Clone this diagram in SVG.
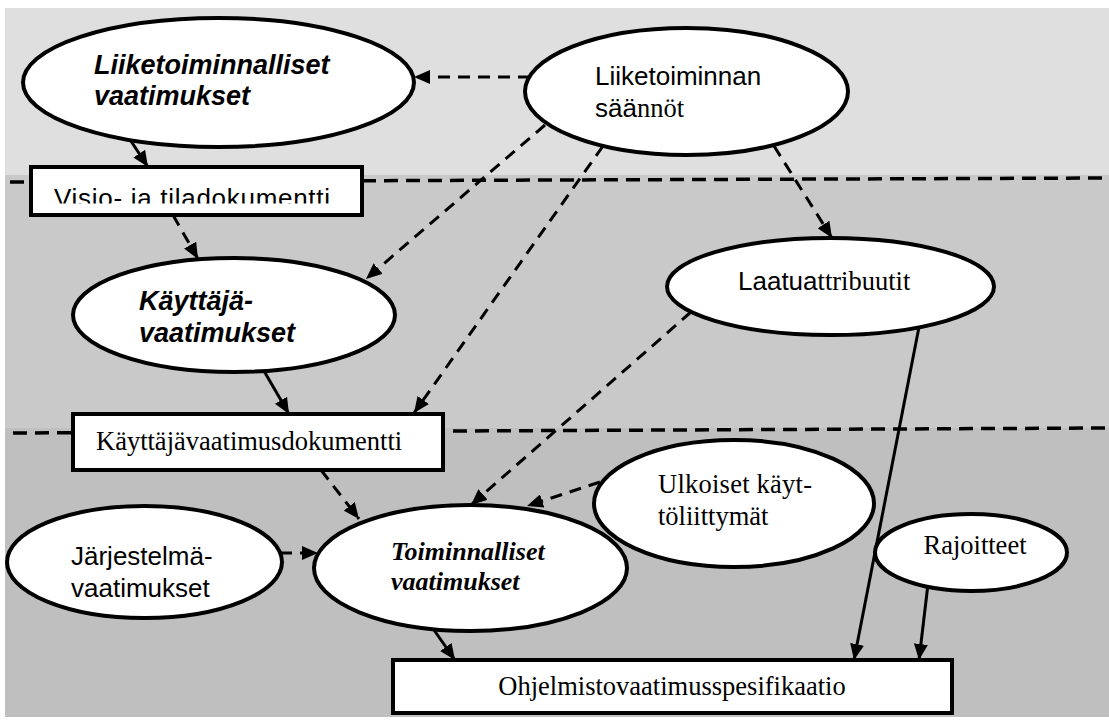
<svg xmlns="http://www.w3.org/2000/svg" width="1109" height="720" viewBox="0 0 1109 720">
  <style>
    .node { fill: #ffffff; stroke: #000000; stroke-width: 4; }
    .sans { font-family: "Liberation Sans", Arial, sans-serif; font-size: 26px; fill: #000; }
    .sansbi { font-family: "Liberation Sans", Arial, sans-serif; font-size: 27px; font-weight: bold; font-style: italic; fill: #000; }
    .serif { font-family: "Liberation Serif", "Times New Roman", serif; font-size: 26.5px; fill: #000; }
    .serifbi { font-family: "Liberation Serif", "Times New Roman", serif; font-size: 26px; font-weight: bold; font-style: italic; fill: #000; }
    .solid { fill: none; stroke: #000; stroke-width: 3; marker-end: url(#head); }
    .dashed { fill: none; stroke: #000; stroke-width: 3; stroke-dasharray: 12 8; marker-end: url(#head); }
    .sep { fill: none; stroke: #000; stroke-width: 3.5; stroke-dasharray: 14 8; }
  </style>
  <defs>
    <marker id="head" markerUnits="userSpaceOnUse" markerWidth="16" markerHeight="14" refX="16" refY="7" orient="auto">
      <path d="M0,0 L16,7 L0,14 z" fill="#000"/>
    </marker>
    <!-- the label of the vision document is cut at its baseline -->
    <clipPath id="visioClip">
      <rect x="31" y="167" width="331" height="36.5"/>
    </clipPath>
  </defs>

  <!-- level bands -->
  <g id="bands">
    <rect x="5" y="8" width="1104" height="167" fill="#dfdfdf"/>
    <rect x="5" y="175" width="1104" height="253" fill="#c9c9c9"/>
    <rect x="5" y="428" width="1104" height="289" fill="#bfbfbf"/>
    <path class="sep" d="M10,182 L1109,178"/>
    <path class="sep" d="M13,433 L1109,428"/>
  </g>

  <!-- connectors -->
  <g id="connectors">
    <path class="dashed" d="M530,77 L414,77"/>
    <path class="solid" d="M129,138 L148,167"/>
    <path class="dashed" d="M173,215 L198,259"/>
    <path class="dashed" d="M545,125 L366,279"/>
    <path class="dashed" d="M603,146 L414,413"/>
    <path class="dashed" d="M774,146 L832,238"/>
    <path class="solid" d="M264,371 L289,414"/>
    <path class="dashed" d="M321,470 L359,519"/>
    <path class="dashed" d="M691,312 L471,505"/>
    <path class="dashed" d="M600,482 L527,506"/>
    <path class="dashed" d="M280,553 L318,553"/>
    <path class="solid" d="M434,630 L455,660"/>
    <path class="solid" d="M919,327 L854,660"/>
    <path class="solid" d="M928,584 L919,660"/>
  </g>

  <g id="liiketoiminnalliset-vaatimukset">
    <ellipse class="node" cx="218.5" cy="82.5" rx="195.5" ry="64.5"/>
    <text class="sansbi" x="94" y="74">Liiketoiminnalliset</text>
    <text class="sansbi" x="94" y="105">vaatimukset</text>
  </g>

  <g id="liiketoiminnan-saannot">
    <ellipse class="node" cx="686.5" cy="91.5" rx="161.5" ry="63.5"/>
    <text class="sans" x="595" y="85">Liiketoiminnan</text>
    <text x="595" y="117"><tspan class="sans">sää</tspan><tspan class="serif">nnöt</tspan></text>
  </g>

  <g id="visio-ja-tiladokumentti">
    <rect class="node" x="31" y="167" width="331" height="48"/>
    <text class="sans" x="54" y="207" font-size="27" textLength="276" lengthAdjust="spacing" clip-path="url(#visioClip)">Visio- ja tiladokumentti</text>
  </g>

  <g id="kayttajavaatimukset">
    <ellipse class="node" cx="234" cy="315" rx="161" ry="57"/>
    <text class="sansbi" x="139" y="310">Käyttäjä-</text>
    <text class="sansbi" x="139" y="342">vaatimukset</text>
  </g>

  <g id="laatuattribuutit">
    <ellipse class="node" cx="830.5" cy="286.5" rx="163.5" ry="48.5"/>
    <text x="738" y="290"><tspan class="sans">Laatua</tspan><tspan class="serif">ttribuutit</tspan></text>
  </g>

  <g id="kayttajavaatimusdokumentti">
    <rect class="node" x="73" y="414" width="370" height="56"/>
    <text class="serif" x="96" y="450">Käyttäjävaatimusdokumentti</text>
  </g>

  <g id="ulkoiset-kayttoliittymat">
    <ellipse class="node" cx="734" cy="503.5" rx="140" ry="63.5"/>
    <text class="serif" x="658" y="493" textLength="154" lengthAdjust="spacing">Ulkoiset käyt-</text>
    <text class="serif" x="658" y="525">töliittymät</text>
  </g>

  <g id="jarjestelmavaatimukset">
    <ellipse class="node" cx="144.5" cy="562" rx="137.5" ry="56"/>
    <text class="sans" x="71" y="565">Järjestelmä-</text>
    <text class="sans" x="71" y="597">vaatimukset</text>
  </g>

  <g id="toiminnalliset-vaatimukset">
    <ellipse class="node" cx="470.5" cy="568" rx="156.5" ry="63"/>
    <text class="serifbi" x="391" y="560">Toiminnalliset</text>
    <text class="serifbi" x="391" y="590">vaatimukset</text>
  </g>

  <g id="rajoitteet">
    <ellipse class="node" cx="971" cy="552.5" rx="96" ry="38.5"/>
    <text class="serif" x="975" y="554" text-anchor="middle">Rajoitteet</text>
  </g>

  <g id="ohjelmistovaatimusspesifikaatio">
    <rect class="node" x="393" y="660" width="559" height="53"/>
    <text class="serif" x="672" y="695" text-anchor="middle">Ohjelmistovaatimusspesifikaatio</text>
  </g>
</svg>
